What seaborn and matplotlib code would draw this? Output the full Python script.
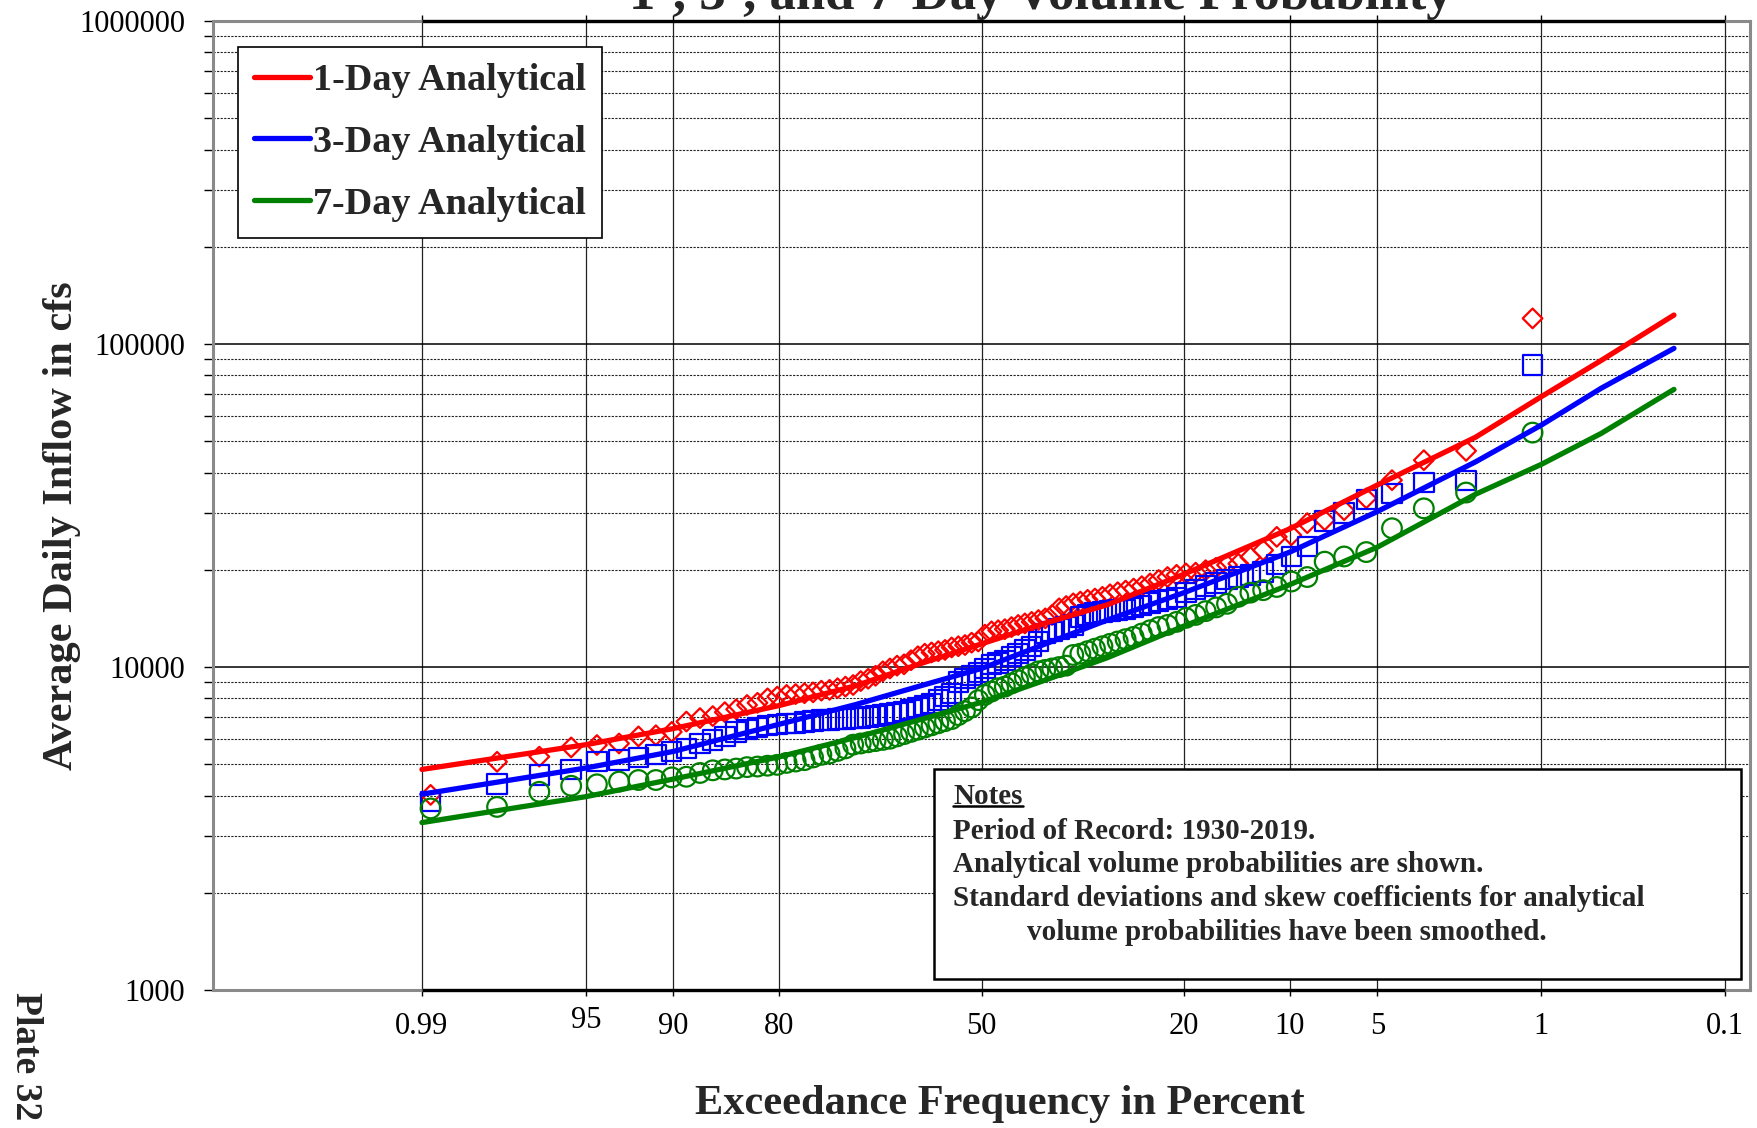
import numpy as np
import pandas as pd
import matplotlib
matplotlib.use("Agg")
import matplotlib.pyplot as plt
import matplotlib.transforms as mtransforms
import seaborn as sns
from matplotlib.ticker import FixedLocator, FixedFormatter, LogLocator, NullFormatter, NullLocator
from matplotlib.patches import Rectangle
from matplotlib.lines import Line2D
from statistics import NormalDist

# ---------------------------------------------------------------- data
# exceedance frequency (percent) of each ranked year, 1930-2019 record
plot_pos = [1.10, 2.20, 3.30, 4.40, 5.49, 6.59, 7.69, 8.79, 9.89, 10.99,
            12.09, 13.19, 14.29, 15.38, 16.48, 17.58, 18.68, 19.78, 20.88, 21.98,
            23.08, 24.18, 25.27, 26.37, 27.47, 28.57, 29.67, 30.77, 31.87, 32.97,
            34.07, 35.16, 36.26, 37.36, 38.46, 39.56, 40.66, 41.76, 42.86, 43.96,
            45.05, 46.15, 47.25, 48.35, 49.45, 50.55, 51.65, 52.75, 53.85, 54.95,
            56.04, 57.14, 58.24, 59.34, 60.44, 61.54, 62.64, 63.74, 64.84, 65.93,
            67.03, 68.13, 69.23, 70.33, 71.43, 72.53, 73.63, 74.73, 75.82, 76.92,
            78.02, 79.12, 80.22, 81.32, 82.42, 83.52, 84.62, 85.71, 86.81, 87.91,
            89.01, 90.11, 91.21, 92.31, 93.41, 94.51, 95.60, 96.70, 97.80, 98.90]

# ranked annual maximum average daily inflow (cfs)
obs_1day = [120100, 46700, 43700, 37900, 33300, 30600, 28500, 27900, 25600, 25300,
            23000, 21900, 20900, 20700, 20300, 19950, 19600, 19500, 19300, 19000,
            18600, 18150, 17800, 17500, 17250, 17050, 16800, 16500, 16300, 16150,
            15950, 15750, 15450, 15200, 14500, 14150, 13980, 13800, 13650, 13500,
            13300, 13100, 13000, 12900, 12600, 12000, 11900, 11700, 11600, 11500,
            11300, 11200, 11100, 11000, 10800, 10500, 10200, 10100, 9900, 9700,
            9400, 9200, 9050, 8800, 8700, 8600, 8500, 8450, 8350, 8300,
            8250, 8200, 8100, 8000, 7750, 7630, 7400, 7250, 7050, 6950,
            6780, 6300, 6150, 6100, 5800, 5735, 5640, 5280, 5090, 4020]
obs_3day = [86100, 37800, 37300, 34400, 33000, 30000, 28300, 23600, 22000, 20800,
            19700, 19300, 19000, 18700, 18200, 17800, 17400, 17000, 16400, 16200,
            16000, 15800, 15500, 15300, 15100, 15000, 14900, 14800, 14700, 14500,
            14300, 13500, 13300, 13100, 12900, 12700, 12000, 11600, 11300, 11000,
            10800, 10500, 10300, 10200, 9900, 9600, 9400, 9200, 9000, 8300,
            8100, 7900, 7700, 7600, 7500, 7400, 7300, 7200, 7150, 7100,
            7050, 7000, 6950, 6950, 6900, 6900, 6850, 6850, 6800, 6750,
            6700, 6700, 6650, 6600, 6500, 6400, 6300, 6100, 5950, 5800,
            5600, 5470, 5370, 5250, 5150, 5100, 4820, 4630, 4350, 3830]
obs_7day = [53200, 34700, 31000, 26900, 22700, 22000, 21200, 19000, 18400, 17700,
            17300, 17000, 16500, 15700, 15300, 14900, 14500, 14200, 13800, 13500,
            13300, 13000, 12700, 12400, 12200, 12000, 11800, 11600, 11400, 11200,
            11000, 10900, 10100, 10000, 9900, 9800, 9700, 9500, 9300, 9100,
            8900, 8700, 8600, 8400, 8200, 7900, 7500, 7300, 7100, 6900,
            6800, 6700, 6600, 6500, 6400, 6300, 6200, 6100, 6000, 5950,
            5900, 5850, 5800, 5750, 5600, 5500, 5400, 5350, 5250, 5150,
            5100, 5050, 4980, 4950, 4920, 4900, 4850, 4820, 4790, 4700,
            4575, 4555, 4470, 4470, 4420, 4335, 4290, 4110, 3690, 3650]

# analytical (smoothed) frequency curves
curve_pct = [99, 95, 90, 80, 70, 60, 50, 40, 30, 20, 10, 5, 2, 1, 0.5, 0.2]
curve_1day = [4820, 5750, 6450, 7600, 8750, 10250, 11800, 13600, 15600, 19400,
              26800, 36600, 51500, 68700, 89000, 123000]
curve_3day = [4040, 4870, 5480, 6650, 7650, 8750, 9900, 11700, 14000, 17000,
              22700, 30300, 43200, 56100, 73000, 97000]
curve_7day = [3300, 3970, 4500, 5270, 6050, 6880, 7780, 9050, 10700, 13400,
              18000, 23500, 34300, 42400, 52900, 72400]

series_names = ["1-Day Analytical", "3-Day Analytical", "7-Day Analytical"]
series_colors = ["#FF0000", "#0000FF", "#008000"]

x_ticks = [99, 95, 90, 80, 50, 20, 10, 5, 1, 0.1]
x_tick_labels = ["0.99", "95", "90", "80", "50", "20", "10", "5", "1", "0.1"]
y_ticks = [1000, 10000, 100000, 1000000]
y_tick_labels = ["1000", "10000", "100000", "1000000"]

title = "1-, 3-, and 7-Day Volume Probability"
notes = ["Period of Record: 1930-2019.",
         "Analytical volume probabilities are shown.",
         "Standard deviations and skew coefficients for analytical"]
notes_cont = "volume probabilities have been smoothed."

# ---------------------------------------------------------------- style
sns.set_style("white")
plt.rcParams["font.family"] = ["Liberation Serif", "DejaVu Serif"]
plt.rcParams["axes.linewidth"] = 1.6

# normal-probability scale for exceedance percent (increasing in p)
_nd = NormalDist()
_fwd = np.vectorize(lambda p: _nd.inv_cdf(min(max(p, 1e-7), 100 - 1e-7) / 100.0),
                    otypes=[float])
_inv = np.vectorize(lambda z: 100.0 * _nd.cdf(z), otypes=[float])


def prob_forward(p):
    return _fwd(np.asarray(p, dtype=float))


def prob_inverse(z):
    return _inv(np.asarray(z, dtype=float))


fig = plt.figure(figsize=(17.58, 11.28), dpi=100)
ax = fig.add_axes([0.1212, 0.1223, 0.8743, 0.8590])
ax.set_xscale("function", functions=(prob_forward, prob_inverse))
ax.set_yscale("log")

# ---------------------------------------------------------------- marks
obs_sets = [obs_1day, obs_3day, obs_7day]
curve_sets = [curve_1day, curve_3day, curve_7day]
markers = ["D", "s", "o"]
sizes = [100, 195, 200]

for vals, col, mk, sz in zip(obs_sets, series_colors, markers, sizes):
    df = pd.DataFrame({"exceedance": plot_pos, "flow": vals})
    sns.scatterplot(data=df, x="exceedance", y="flow", marker=mk, s=sz,
                    facecolor="none", edgecolor=col, linewidth=1.6,
                    ax=ax, zorder=3)

for vals, col, name in zip(curve_sets, series_colors, series_names):
    df = pd.DataFrame({"exceedance": curve_pct, "flow": vals})
    sns.lineplot(data=df, x="exceedance", y="flow", color=col, linewidth=3.8,
                 sort=False, estimator=None, ax=ax, label=name, zorder=4)

# ---------------------------------------------------------------- axes
# exceedance decreases from left to right
ax.set_xlim(99.93, 0.07)
ax.set_ylim(y_ticks[0], y_ticks[-1])

ax.xaxis.set_major_locator(FixedLocator(x_ticks))
ax.xaxis.set_major_formatter(FixedFormatter(x_tick_labels))
ax.xaxis.set_minor_locator(NullLocator())
ax.yaxis.set_major_locator(FixedLocator(y_ticks))
ax.yaxis.set_major_formatter(FixedFormatter(y_tick_labels))
ax.yaxis.set_minor_locator(LogLocator(base=10, subs=range(2, 10)))
ax.yaxis.set_minor_formatter(NullFormatter())

ax.tick_params(axis="x", which="major", direction="out", length=4.5, width=1,
               top=True, bottom=True, labelsize=22, pad=11, colors="black")
ax.tick_params(axis="y", which="both", direction="out", length=6.5, width=1,
               left=True, labelsize=22, pad=13.5, colors="black")

ax.grid(which="major", axis="x", color="#222222", linewidth=0.9, linestyle="-")
ax.grid(which="major", axis="y", color="black", linewidth=1.1, linestyle="-")
ax.grid(which="minor", axis="y", color="#222222", linewidth=0.8,
        linestyle=(0, (2, 1.2)))
ax.set_axisbelow(True)

for side in ["left", "right", "top", "bottom"]:
    ax.spines[side].set_color("#8a8a8a")
    ax.spines[side].set_linewidth(2.2)
# dark frame segment spanning the probability range
ax.hlines([y_ticks[0], y_ticks[-1]], x_ticks[0], x_ticks[-1], color="black",
          linewidth=2.4, zorder=5, clip_on=False)

ax.set_xlabel("Exceedance Frequency in Percent", fontsize=30.5, fontweight="bold")
ax.xaxis.set_label_coords(0.512, -0.1176)
ax.xaxis.label.set_verticalalignment("center")
ax.set_ylabel("Average Daily Inflow in cfs", fontsize=30.5, fontweight="bold")
ax.yaxis.set_label_coords(-0.0982, 0.479)
ax.yaxis.label.set_verticalalignment("center")

# the 95 label sits slightly higher than its neighbours
lab95 = ax.xaxis.get_major_ticks()[1].label1
lab95.set_transform(lab95.get_transform()
                    + mtransforms.ScaledTranslation(0, 6 / 100, fig.dpi_scale_trans))

# ---------------------------------------------------------------- legend
leg = ax.legend(loc="upper left", bbox_to_anchor=(0.0163, 0.9732), borderaxespad=0,
                prop={"weight": "bold", "size": 27.5}, frameon=True, fancybox=False,
                edgecolor="black", framealpha=1, handlelength=1.45,
                handletextpad=0.1, borderpad=0.42, labelspacing=0.7)
leg.get_frame().set_linewidth(1.2)
leg.set_zorder(6)

# ---------------------------------------------------------------- notes box
ax.add_patch(Rectangle((0.4691, 0.01135), 0.5250, 0.2168, transform=ax.transAxes,
                       facecolor="white", edgecolor="black", linewidth=1.8,
                       zorder=6, clip_on=False))
note_font = dict(fontsize=21, fontweight="bold", va="center", ha="left",
                 transform=ax.transAxes, zorder=7)
hdr = ax.text(0.4815, 0.2002, "Notes", **note_font)
for yy, line in zip([0.1641, 0.1300, 0.0949], notes):
    ax.text(0.4815, yy, line, **note_font)
ax.text(0.5296, 0.0599, notes_cont, **note_font)

# underline the notes heading
fig.canvas.draw()
bb = hdr.get_window_extent(fig.canvas.get_renderer())
uy = bb.y0 + 0.12 * bb.height
fig.add_artist(Line2D([bb.x0, bb.x1], [uy, uy], transform=None, color="black",
                      linewidth=1.8, zorder=8))

# ---------------------------------------------------------------- page text
fig.suptitle(title, x=0.592, y=0.992, va="baseline", fontsize=38, fontweight="bold")
fig.text(25 / 1758, 1 - 1056 / 1128, "Plate 32", rotation=-90, ha="center",
         va="center", fontsize=27, fontweight="bold")

fig.savefig("out.png", dpi=100)
